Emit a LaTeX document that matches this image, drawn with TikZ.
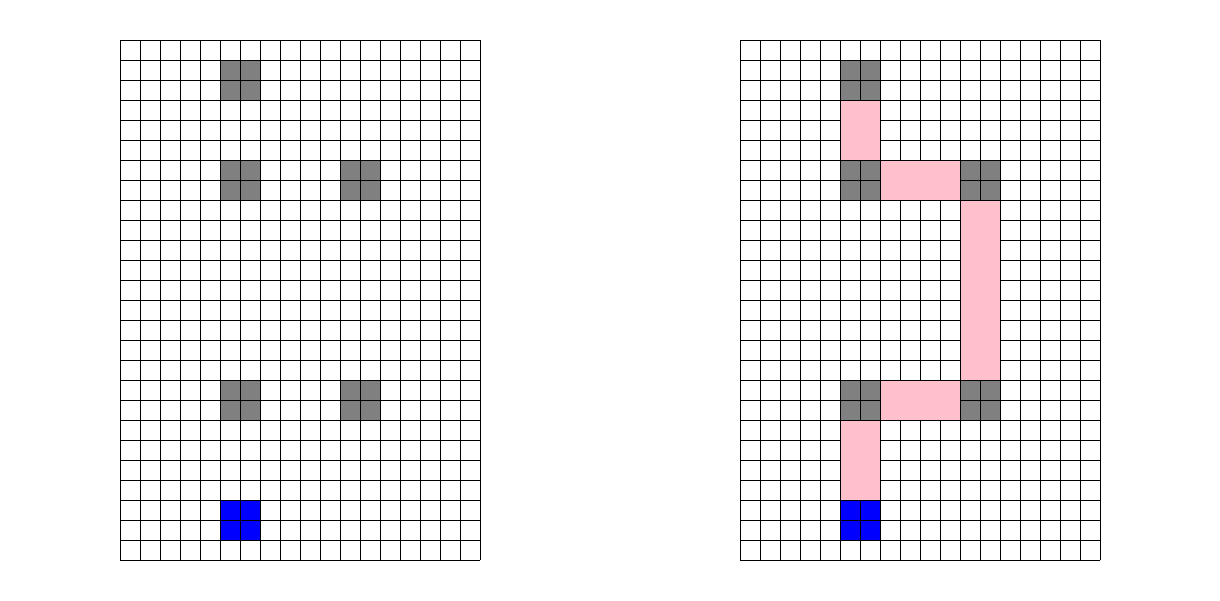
\documentclass[tikz,border=0pt]{standalone}
\usepackage{xcolor}
\definecolor{obsGray}{RGB}{128,128,128}
\definecolor{startBlue}{RGB}{0,0,255}
\definecolor{pathPink}{RGB}{255,192,203}
\tikzset{
  gridline/.style={draw=black, line width=0.6pt},
  obs/.style={fill=obsGray},
  start/.style={fill=startBlue},
  trail/.style={fill=pathPink, gridline},
}
% block of cells: grid origin x, column, row (from top), width, height, style
\newcommand{\Cells}[6]{\path[#6] (#1+#2,28-#3) rectangle ++(#4,-#5);}

\begin{document}
\begin{tikzpicture}[x=0.5cm,y=0.5cm]
  \useasboundingbox (0,0) rectangle (61,30);

  % obstacles and start -- same on both grids
  \foreach \gx in {6,37}{
    \Cells{\gx}{5}{1}{2}{2}{obs}
    \Cells{\gx}{5}{6}{2}{2}{obs}
    \Cells{\gx}{11}{6}{2}{2}{obs}
    \Cells{\gx}{5}{17}{2}{2}{obs}
    \Cells{\gx}{11}{17}{2}{2}{obs}
    \Cells{\gx}{5}{23}{2}{2}{start}
  }

  % grids
  \foreach \gx in {6,37}
    \draw[gridline, step=0.5cm] (\gx,2) grid (\gx+18,28);

  % path -- right grid only
  \Cells{37}{5}{3}{2}{3}{trail}
  \Cells{37}{7}{6}{4}{2}{trail}
  \Cells{37}{11}{8}{2}{9}{trail}
  \Cells{37}{7}{17}{4}{2}{trail}
  \Cells{37}{5}{19}{2}{4}{trail}
\end{tikzpicture}
\end{document}
